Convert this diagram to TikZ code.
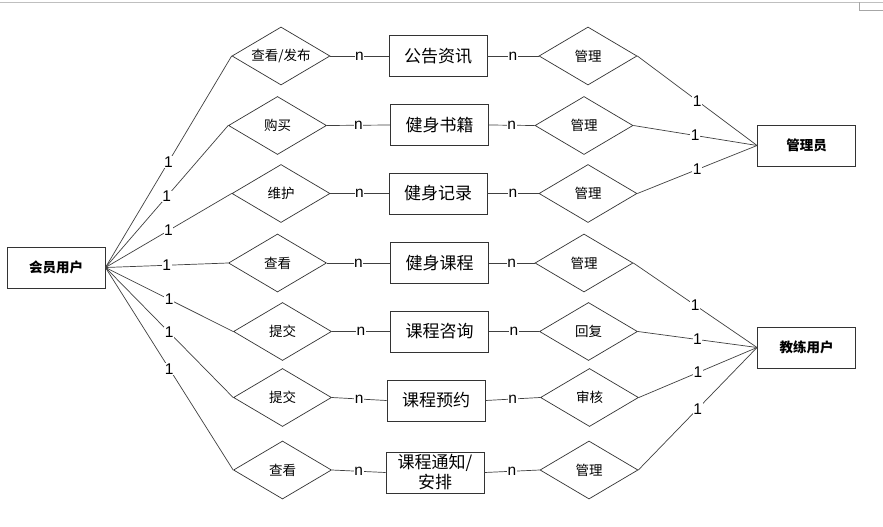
\documentclass[tikz,border=0pt]{standalone}
\usepackage{fontspec}
\setmainfont{Noto Sans CJK SC}
\newfontfamily\latinfont{Liberation Sans}
\usetikzlibrary{shapes.geometric}
\begin{document}
\begin{tikzpicture}[x=1pt,y=-1pt,
  ent/.style={draw=black!80,line width=0.9pt,minimum width=98pt,minimum height=41pt,inner sep=0pt,align=center,font=\fontsize{17}{19}\selectfont},
  side/.style={draw=black!80,line width=0.9pt,minimum width=98pt,minimum height=41pt,inner sep=0pt,font=\fontsize{13.5}{15}\selectfont\bfseries},
  rel/.style={draw=black!80,line width=0.7pt,diamond,aspect=1.69,minimum width=98pt,minimum height=58pt,inner sep=0pt,font=\fontsize{13.5}{15}\selectfont},
  conn/.style={draw=black!75,line width=0.7pt},
  lab/.style={fill=white,inner sep=0.5pt,font=\latinfont\fontsize{15.5}{16}\selectfont}
]
\useasboundingbox (0,0) rectangle (883,527);
\fill[white] (0,0) rectangle (883,527);
\draw[black!25,line width=1.2pt] (0,2.5) -- (883,2.5);
\draw[black!35,line width=0.6pt] (859,2.5) -- (859,10.5) -- (883,10.5);

\node[side] (member) at (56,267.5) {会员用户};
\node[side] (admin) at (806.5,145.5) {管理员};
\node[side] (coach) at (806.5,347.5) {教练用户};

\node[rel] (l1) at (281,56) {查看/发布};
\node[rel] (l2) at (277.5,125.5) {购买};
\node[rel] (l3) at (281,193.5) {维护};
\node[rel] (l4) at (277.5,263) {查看};
\node[rel] (l5) at (282.5,331.5) {提交};
\node[rel] (l6) at (282.5,397.5) {提交};
\node[rel] (l7) at (282.5,470) {查看};

\node[ent] (e1) at (438,56) {公告资讯};
\node[ent] (e2) at (439.5,125) {健身书籍};
\node[ent] (e3) at (438,193.5) {健身记录};
\node[ent] (e4) at (439.5,263) {健身课程};
\node[ent] (e5) at (439.5,331.5) {课程咨询};
\node[ent] (e6) at (436,400.5) {课程预约};
\node[ent,font=\fontsize{17}{20}\selectfont] (e7) at (435,472.5) {课程通知/\\安排};

\node[rel] (r1) at (588,56) {管理};
\node[rel] (r2) at (584,125.5) {管理};
\node[rel] (r3) at (588,193.5) {管理};
\node[rel] (r4) at (584,263) {管理};
\node[rel] (r5) at (588.5,331.5) {回复};
\node[rel] (r6) at (589.5,397.5) {审核};
\node[rel] (r7) at (589,470) {管理};

\foreach \i in {1,...,7}{
  \draw[conn] (member.east) -- node[lab]{1} (l\i.west);
  \draw[conn] (l\i.east) -- node[lab]{n} (e\i.west);
  \draw[conn] (e\i.east) -- node[lab]{n} (r\i.west);
}
\foreach \i in {1,2,3}{
  \draw[conn] (r\i.east) -- node[lab]{1} (admin.west);
}
\foreach \i in {4,5,6,7}{
  \draw[conn] (r\i.east) -- node[lab]{1} (coach.west);
}
\end{tikzpicture}
\end{document}
